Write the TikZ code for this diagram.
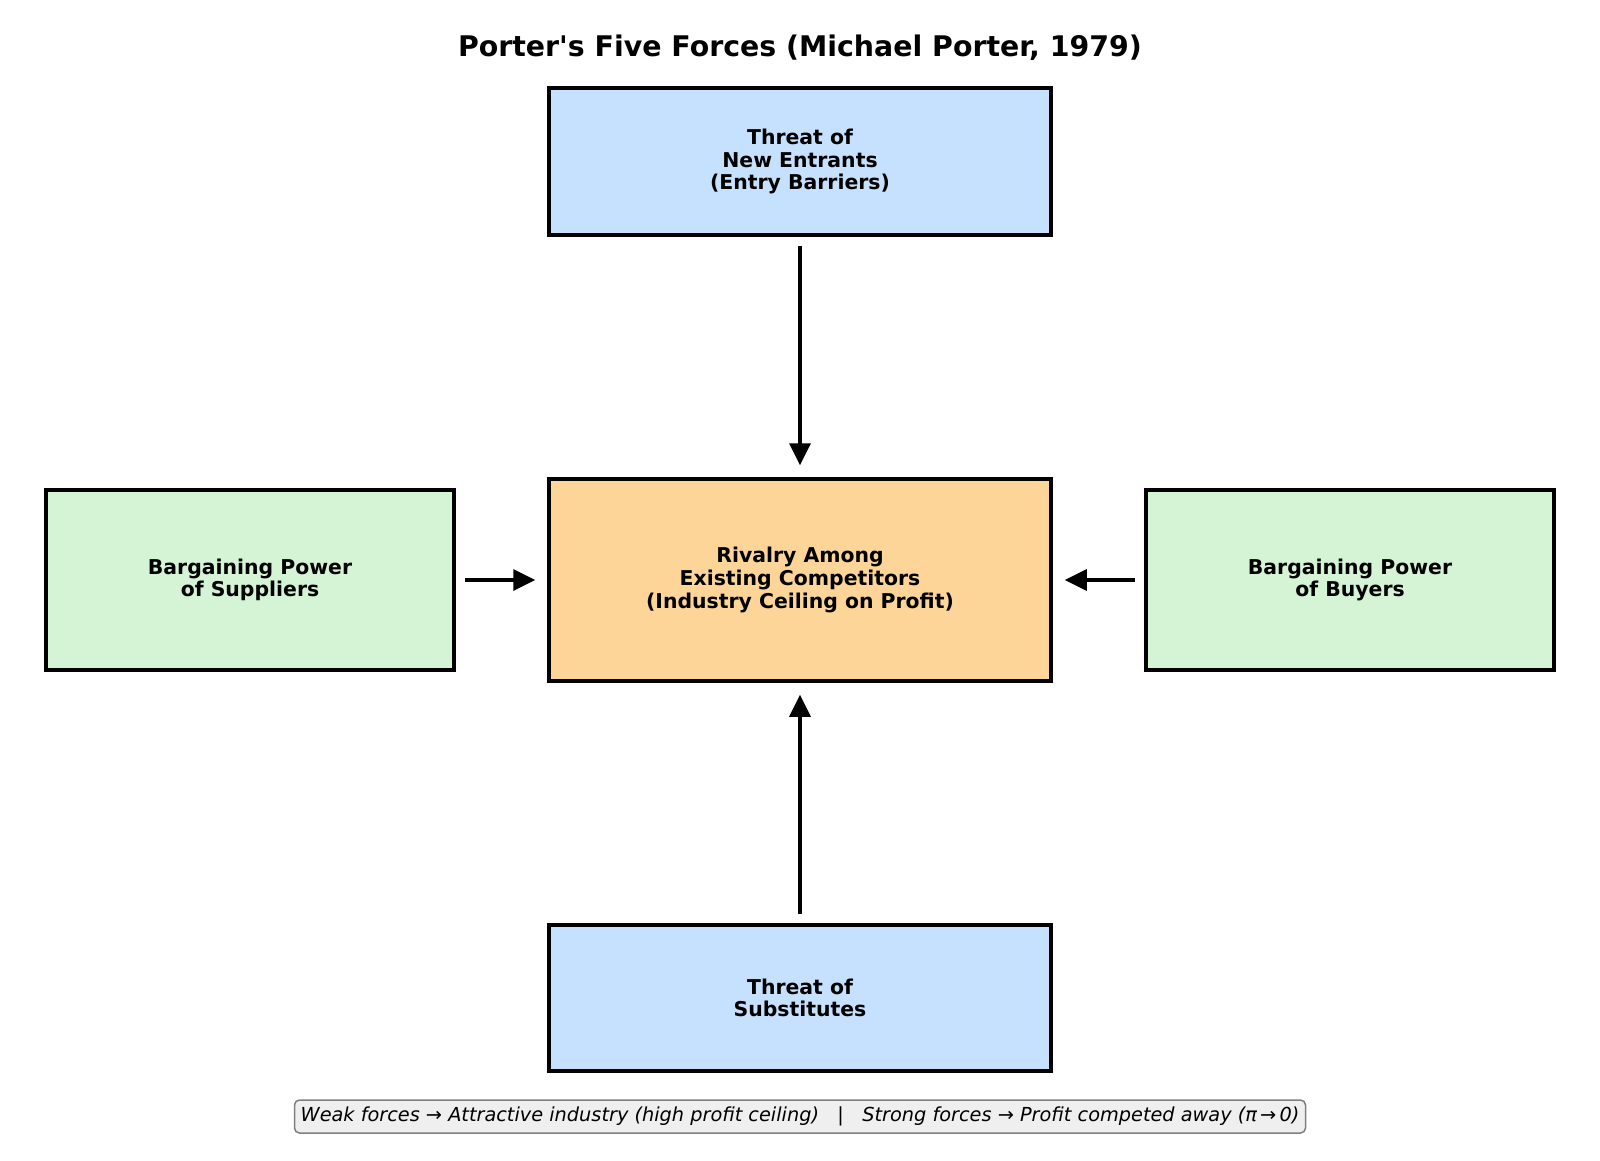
\documentclass[tikz,border=0pt]{standalone}
\usepackage{fontspec}
\setmainfont{DejaVu Sans}[Ligatures=TeXOff]
\usetikzlibrary{arrows.meta}
\definecolor{entrantblue}{HTML}{C6E1FD}
\definecolor{powergreen}{HTML}{D5F4D6}
\definecolor{rivalorange}{HTML}{FDD599}
\definecolor{notegray}{HTML}{EFEFEF}
\begin{document}
\begin{tikzpicture}[x=1pt,y=-1pt,
    force/.style={draw,line width=3.5pt,align=center,inner sep=0pt,
      font=\fontsize{20.4}{22.6}\selectfont\bfseries},
    push/.style={line width=3.5pt,-{Triangle[length=22pt,width=21pt]},
      shorten <=9pt,shorten >=12pt}]
    \useasboundingbox (0,0) rectangle (1600,1160);
    \node[font=\fontsize{28.4}{32}\selectfont\bfseries] (title) at (800,48)
      {Porter's Five Forces (Michael Porter, 1979)};
    \node[force,fill=entrantblue,minimum width=502pt,minimum height=147pt]
      (entrants) at (800,161.5) {Threat of\\New Entrants\\(Entry Barriers)};
    \node[force,fill=rivalorange,minimum width=502pt,minimum height=202pt]
      (rivalry) at (800,580) {Rivalry Among\\Existing Competitors\\(Industry Ceiling on Profit)};
    \node[force,fill=powergreen,minimum width=408pt,minimum height=180pt]
      (suppliers) at (250,580) {Bargaining Power\\of Suppliers};
    \node[force,fill=powergreen,minimum width=408pt,minimum height=180pt]
      (buyers) at (1350,580) {Bargaining Power\\of Buyers};
    \node[force,fill=entrantblue,minimum width=502pt,minimum height=146pt]
      (substitutes) at (800,998) {Threat of\\Substitutes};
    \draw[push] (entrants) -- (rivalry);
    \draw[push] (substitutes) -- (rivalry);
    \draw[push] (suppliers) -- (rivalry);
    \draw[push] (buyers) -- (rivalry);
    \node[draw=gray,fill=notegray,line width=1.5pt,rounded corners=5pt,
      minimum width=1011pt,minimum height=33pt,inner sep=0pt,
      font=\fontsize{19.3}{22}\selectfont\itshape] (note) at (800,1116.5)
      {Weak forces → Attractive industry (high profit ceiling)\ \ \ |\ \ \ Strong forces → Profit competed away (π\,→\,0)};
  \end{tikzpicture}
\end{document}
